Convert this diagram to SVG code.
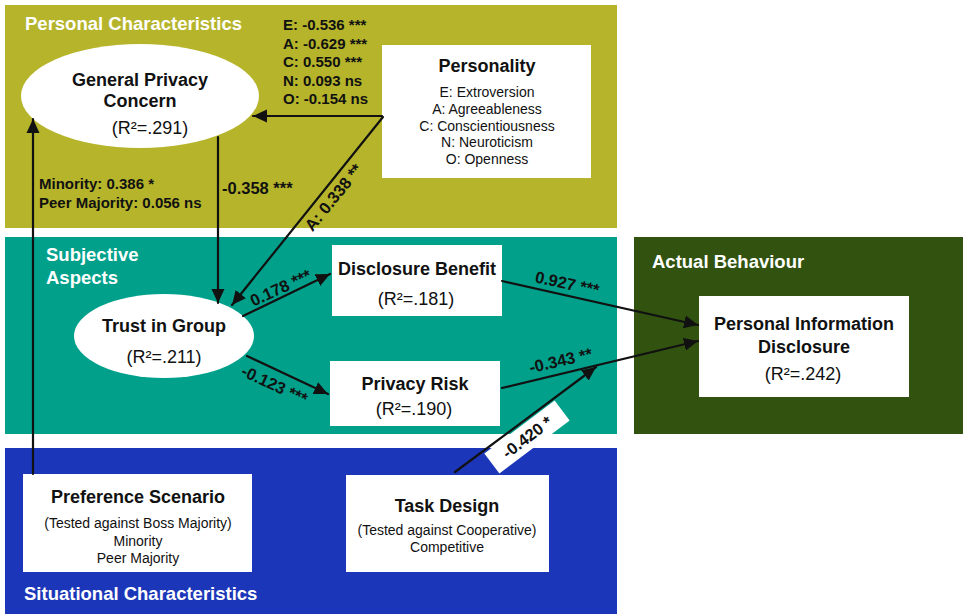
<svg xmlns="http://www.w3.org/2000/svg" width="963" height="614" viewBox="0 0 963 614">
  <defs>
    <style>
      text { font-family: "Liberation Sans", Arial, Helvetica, sans-serif; fill: #111; }
      .title { font-size: 18px; font-weight: bold; text-anchor: middle; }
      .r2 { font-size: 18px; text-anchor: middle; }
      .sub { font-size: 14px; text-anchor: middle; }
      .panel { font-size: 18.5px; font-weight: bold; fill: #fff; }
      .stat { font-size: 15px; font-weight: bold; }
      .coef { font-size: 16.5px; font-weight: bold; }
      .node { fill: #fff; }
      .edge { stroke: #111; stroke-width: 2.2; fill: none; stroke-linecap: round; marker-end: url(#arrow); }
    </style>
    <marker id="arrow" markerUnits="userSpaceOnUse" markerWidth="16" markerHeight="14" refX="14" refY="7" orient="auto">
      <path d="M0,0.5 L14,7 L0,13.5 z" fill="#111"/>
    </marker>
  </defs>

  <!-- background panels -->
  <g id="panels">
    <rect x="5" y="5" width="612" height="223" fill="#b5b42b"/>
    <rect x="5" y="237" width="612" height="197" fill="#00a08b"/>
    <rect x="634" y="237" width="329" height="197" fill="#31530f"/>
    <rect x="5" y="448" width="612" height="166" fill="#1b36b8"/>
    <text class="panel" x="25" y="30">Personal Characteristics</text>
    <text class="panel" x="46" y="261">Subjective</text>
    <text class="panel" x="46" y="284">Aspects</text>
    <text class="panel" x="652" y="268">Actual Behaviour</text>
    <text class="panel" x="24" y="600">Situational Characteristics</text>
  </g>

  <!-- nodes -->
  <g id="general-privacy-concern">
    <ellipse class="node" cx="140" cy="96" rx="119" ry="52"/>
    <text class="title" x="140" y="86">General Privacy</text>
    <text class="title" x="140" y="107">Concern</text>
    <text class="r2" x="150" y="134">(R²=.291)</text>
  </g>

  <g id="personality">
    <rect class="node" x="382" y="45" width="209" height="133"/>
    <text class="title" x="487" y="72">Personality</text>
    <text class="sub" x="487" y="97">E: Extroversion</text>
    <text class="sub" x="487" y="114">A: Agreeableness</text>
    <text class="sub" x="487" y="131">C: Conscientiousness</text>
    <text class="sub" x="487" y="147">N: Neuroticism</text>
    <text class="sub" x="487" y="164">O: Openness</text>
  </g>

  <g id="trust-in-group">
    <ellipse class="node" cx="164" cy="336" rx="90" ry="42"/>
    <text class="title" x="164" y="332">Trust in Group</text>
    <text class="r2" x="164" y="363">(R²=.211)</text>
  </g>

  <g id="disclosure-benefit">
    <rect class="node" x="332" y="245" width="170" height="71"/>
    <text class="title" x="417" y="275">Disclosure Benefit</text>
    <text class="r2" x="416" y="305">(R²=.181)</text>
  </g>

  <g id="privacy-risk">
    <rect class="node" x="330" y="361" width="170" height="65"/>
    <text class="title" x="415" y="390">Privacy Risk</text>
    <text class="r2" x="414" y="415">(R²=.190)</text>
  </g>

  <g id="personal-information-disclosure">
    <rect class="node" x="699" y="296" width="210" height="101"/>
    <text class="title" x="804" y="330">Personal Information</text>
    <text class="title" x="804" y="353">Disclosure</text>
    <text class="r2" x="803" y="380">(R²=.242)</text>
  </g>

  <g id="preference-scenario">
    <rect class="node" x="23" y="474" width="229" height="98"/>
    <text class="title" x="138" y="503">Preference Scenario</text>
    <text class="sub" x="138" y="528">(Tested against Boss Majority)</text>
    <text class="sub" x="138" y="546">Minority</text>
    <text class="sub" x="138" y="563">Peer Majority</text>
  </g>

  <g id="task-design">
    <rect class="node" x="346" y="475" width="203" height="97"/>
    <text class="title" x="447" y="512">Task Design</text>
    <text class="sub" x="447" y="535">(Tested against Cooperative)</text>
    <text class="sub" x="447" y="552">Competitive</text>
  </g>

  <!-- connectors -->
  <g id="connectors">
    <line class="edge" x1="382" y1="116" x2="253" y2="116"/>
    <line class="edge" x1="383" y1="117" x2="232" y2="305"/>
    <line class="edge" x1="218" y1="137" x2="218" y2="303"/>
    <line class="edge" x1="33" y1="474" x2="33" y2="119"/>
    <line class="edge" x1="243" y1="316" x2="330" y2="274"/>
    <line class="edge" x1="247" y1="356" x2="328" y2="394"/>
    <line class="edge" x1="502" y1="281" x2="698" y2="325"/>
    <line class="edge" x1="502" y1="388" x2="698" y2="341"/>
    <line class="edge" x1="455" y1="472" x2="596" y2="367"/>
  </g>

  <!-- path coefficients -->
  <g id="coefficients">
    <text class="stat" x="283" y="30">E: -0.536 ***</text>
    <text class="stat" x="283" y="48.5">A: -0.629 ***</text>
    <text class="stat" x="283" y="67">C: 0.550 ***</text>
    <text class="stat" x="283" y="85.5">N: 0.093 ns</text>
    <text class="stat" x="283" y="104">O: -0.154 ns</text>

    <text class="stat" x="39" y="189">Minority: 0.386 *</text>
    <text class="stat" x="39" y="208">Peer Majority: 0.056 ns</text>

    <text class="coef" x="222" y="194">-0.358 ***</text>

    <text class="coef" text-anchor="middle" transform="translate(338,201) rotate(-51)">A: 0.338 **</text>
    <text class="coef" text-anchor="middle" transform="translate(283,293) rotate(-25)">0.178 ***</text>
    <text class="coef" text-anchor="middle" transform="translate(272,390) rotate(25)">-0.123 ***</text>
    <text class="coef" text-anchor="middle" transform="translate(566,289) rotate(12)">0.927 ***</text>
    <text class="coef" text-anchor="middle" transform="translate(562,366) rotate(-13)">-0.343 **</text>

    <g transform="translate(527,437) rotate(-37)">
      <rect x="-44" y="-12.5" width="88" height="25" fill="#fff"/>
      <text class="coef" text-anchor="middle" x="0" y="6">-0.420 *</text>
    </g>
  </g>
</svg>
